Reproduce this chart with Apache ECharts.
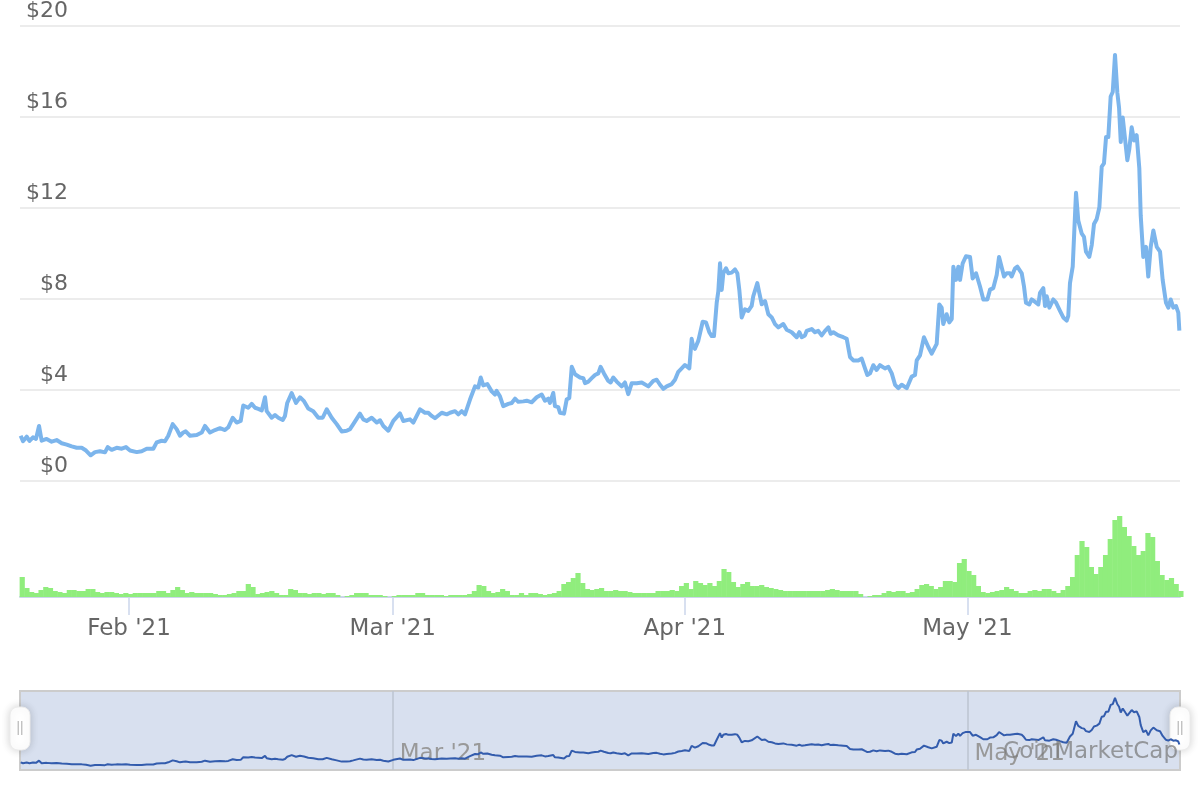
<!DOCTYPE html>
<html><head><meta charset="utf-8">
<script src="https://cdn.jsdelivr.net/npm/echarts@6/dist/echarts.min.js"></script>
<style>html,body{margin:0;padding:0;background:#fff}#c{width:1200px;height:800px}</style>
</head><body><div id="c"></div>
<script>
// ---- data ----
const priceBaseDate = '2021-02-01T00:00'; // day 0 of priceDays
const priceDays = [
-11.50,-11.25,-10.86,-10.56,-10.19,-9.87,-9.55,-9.27,-8.74,-8.21,
-7.68,-7.14,-6.61,-6.08,-5.55,-5.02,-4.56,-4.07,-3.61,-3.08,
-2.55,-2.26,-1.84,-1.31,-0.77,-0.32,0.11,0.82,1.35,1.88,
2.58,2.94,3.47,3.82,4.17,4.64,5.06,5.41,5.76,6.02,
6.48,7.19,7.72,8.07,8.60,9.13,9.66,10.19,10.54,11.01,
11.43,11.86,12.13,12.66,13.03,13.38,13.73,14.09,14.44,14.62,
15.15,15.50,15.85,16.32,16.56,16.80,17.27,17.73,18.15,18.58,
19.03,19.56,20.10,20.56,20.99,21.52,22.05,22.58,23.11,23.46,
23.81,24.52,24.87,25.23,25.76,26.30,26.65,27.00,27.53,28.06,
28.77,29.12,29.83,30.18,30.89,31.42,31.77,32.13,32.48,33.20,
33.73,34.08,34.61,34.96,35.32,35.67,36.20,36.73,37.08,37.34,
37.61,38.04,38.50,38.85,39.03,39.38,39.73,40.27,40.63,40.98,
41.33,41.86,42.22,42.75,43.28,43.81,44.16,44.51,44.69,45.04,
45.22,45.57,45.75,46.18,46.46,46.74,47.00,47.35,47.88,48.23,
48.41,48.76,49.12,49.47,49.82,50.07,50.42,50.88,51.13,51.41,
51.77,52.30,52.65,53.00,53.37,53.90,54.43,55.13,55.66,56.02,
56.37,56.72,57.08,57.61,57.96,58.31,58.67,59.02,59.20,59.48,
59.73,59.90,60.08,60.44,60.90,61.25,61.60,61.86,62.10,62.39,
62.56,62.74,62.92,63.09,63.38,63.62,63.98,64.33,64.58,64.79,
65.04,65.39,65.74,66.10,66.27,66.70,66.91,67.17,67.52,67.87,
68.23,68.58,68.93,69.46,69.82,70.35,70.88,71.16,71.41,71.76,
71.94,72.47,72.82,73.17,73.53,73.89,74.24,74.49,74.77,75.30,
75.83,76.19,76.54,76.89,77.42,77.78,78.13,78.38,78.66,79.01,
79.37,79.72,80.25,80.61,80.97,81.32,81.67,82.03,82.56,83.09,
83.44,83.62,83.97,84.39,84.85,85.21,85.74,86.02,86.27,86.44,
86.80,87.08,87.34,87.51,87.79,88.04,88.22,88.50,88.85,89.28,
89.56,89.92,90.34,90.69,91.12,91.40,91.75,92.11,92.36,92.54,
92.89,93.17,93.52,93.70,94.06,94.30,94.77,95.01,95.22,95.57,
95.83,96.29,96.53,96.71,97.06,97.24,97.42,97.70,98.12,98.41,
98.83,99.18,99.54,99.71,99.89,100.18,100.53,100.77,101.14,101.38,
101.59,101.94,102.20,102.44,102.73,103.01,103.26,103.50,103.72,103.96,
104.21,104.43,104.67,104.92,105.10,105.28,105.49,105.77,105.98,106.19,
106.44,106.69,106.97,107.25,107.40,107.67,107.96,108.20,108.46,108.74,
109.10,109.45,109.73,110.08,110.33,110.58,110.86,111.15,111.39,111.50
];
const prices = [
1.99,1.75,1.95,1.76,1.92,1.85,2.42,1.77,1.85,1.73,
1.80,1.66,1.60,1.52,1.46,1.46,1.34,1.13,1.27,1.31,
1.26,1.49,1.37,1.46,1.42,1.49,1.34,1.27,1.31,1.42,
1.42,1.70,1.77,1.75,1.99,2.50,2.28,1.99,2.13,2.18,
1.99,2.02,2.13,2.42,2.13,2.24,2.32,2.24,2.36,2.78,
2.57,2.64,3.32,3.22,3.39,3.22,3.17,3.10,3.68,3.07,
2.78,2.90,2.78,2.68,2.86,3.43,3.87,3.43,3.68,3.51,
3.19,3.07,2.78,2.78,3.15,2.78,2.50,2.18,2.21,2.28,
2.50,2.96,2.71,2.64,2.78,2.57,2.67,2.42,2.21,2.64,
2.97,2.64,2.71,2.57,3.15,3.00,3.00,2.86,2.76,3.00,
2.93,3.00,3.07,2.93,3.07,2.93,3.58,4.16,4.11,4.55,
4.20,4.26,3.94,3.80,3.96,3.72,3.29,3.39,3.43,3.62,
3.48,3.50,3.53,3.46,3.68,3.80,3.53,3.62,3.43,3.87,
3.29,3.25,3.00,2.96,3.58,3.65,5.02,4.69,4.55,4.52,
4.30,4.37,4.52,4.66,4.73,5.02,4.73,4.40,4.33,4.55,
4.37,4.16,4.33,3.82,4.30,4.30,4.33,4.16,4.40,4.45,
4.23,4.05,4.16,4.26,4.45,4.80,4.95,5.10,5.12,4.95,
6.25,5.90,5.81,6.17,7.00,6.97,6.54,6.37,6.37,7.84,
8.34,9.57,8.40,9.13,9.35,9.13,9.16,9.30,9.13,8.40,
7.19,7.55,7.48,7.70,8.12,8.70,8.27,7.77,7.91,7.33,
7.19,6.90,6.75,6.90,6.65,6.54,6.32,6.54,6.32,6.40,
6.60,6.68,6.54,6.60,6.40,6.60,6.75,6.47,6.54,6.40,
6.32,6.25,5.45,5.30,5.30,5.38,4.95,4.66,4.73,5.09,
4.88,5.09,4.95,5.02,4.73,4.23,4.08,4.23,4.08,4.59,
4.66,5.30,5.52,6.32,5.89,5.60,6.03,7.76,7.62,6.90,
7.33,6.97,7.12,9.42,8.84,9.42,8.84,9.57,9.88,9.85,
8.90,9.13,8.55,7.98,7.98,8.41,8.48,9.06,9.85,9.93,
8.99,9.13,9.13,8.99,9.35,9.42,9.13,8.55,7.84,7.76,
7.98,7.84,7.76,8.27,8.48,7.69,8.12,7.62,7.98,7.84,
7.48,7.19,7.05,7.26,8.70,9.42,12.67,11.45,10.87,10.73,
10.08,9.85,10.37,11.30,11.52,12.03,13.82,13.96,15.12,15.12,
16.90,17.10,18.73,17.06,16.41,14.90,15.98,14.90,14.10,14.60,
15.55,14.97,15.20,13.75,11.66,9.85,10.29,8.99,10.29,11.01,
10.29,10.08,8.84,7.84,7.62,7.98,7.62,7.69,7.40,6.61
];
const volumeStart = '2021-01-20T16:00'; // first volume bar
const volumeStepHours = 12;
const volumes = [
20,9,5,4,7,10,9,6,5,4,
7,7,6,6,8,8,5,4,5,5,
4,3,4,3,4,4,4,4,4,6,
6,4,7,10,7,4,5,4,4,4,
4,3,2,2,3,4,6,6,13,10,
3,4,5,6,4,2,2,8,7,4,
4,3,4,4,3,4,4,2,0,1,
2,4,4,4,2,2,2,1,0,1,
2,2,2,2,4,4,2,2,2,2,
1,2,2,2,2,3,6,12,11,6,
4,5,8,6,2,2,4,2,4,4,
3,2,3,4,6,13,15,19,24,14,
8,7,8,9,6,6,7,6,6,5,
4,4,4,4,4,6,6,6,7,6,
11,14,8,16,14,12,14,11,16,28,
25,15,10,13,15,11,11,12,10,9,
8,7,6,6,6,6,6,6,6,6,
6,7,8,7,6,6,6,6,3,0,
1,2,2,4,6,5,6,6,4,5,
8,12,13,11,8,10,16,16,15,34,
38,26,22,11,5,4,5,6,7,10,
8,6,4,4,6,7,6,8,8,6,
4,7,11,20,42,56,50,30,23,30,
42,58,77,81,70,61,51,42,46,64,
60,36,22,17,19,13,6
];
const axisStart = '2021-01-20T10:20';
const axisEnd = '2021-05-23T13:40';
const tickDates = ['2021-02-01T00:00','2021-03-01T00:00','2021-04-01T00:00','2021-05-01T00:00'];
const tickLabels = ["Feb '21","Mar '21","Apr '21","May '21"];
const navTickDates = ['2021-03-01T00:00','2021-05-01T00:00'];
const navTickLabels = ["Mar '21","May '21"];
const yTicks = [0,4,8,12,16,20];
const watermark = 'CoinMarketCap';

// ---- build ----
const FONT = 'DejaVu Sans';
const HOUR = 3600000, DAY = 24 * HOUR;
const ts = s => new Date(s).getTime();
const base = ts(priceBaseDate);
const priceData = priceDays.map((d, i) => [base + d * DAY, prices[i]]);
const v0 = ts(volumeStart);
const volumeData = volumes.map((v, i) => [v0 + i * volumeStepHours * HOUR, v]);
const minT = ts(axisStart), maxT = ts(axisEnd);
const tickVals = tickDates.map(ts);
const navTickVals = navTickDates.map(ts);
const labelFor = (vals, labels) => v => {
  const i = vals.findIndex(x => Math.abs(x - v) < HOUR);
  return i < 0 ? '' : labels[i];
};

function handle(cx) {
  return {
    type: 'group', z: 50,
    children: [
      { type: 'rect', shape: { x: cx - 10, y: 707, width: 20, height: 43, r: 8 },
        style: { fill: '#ffffff', stroke: '#ececec', lineWidth: 1, shadowBlur: 8, shadowColor: 'rgba(0,0,0,0.18)' } },
      { type: 'line', shape: { x1: cx - 1.8, y1: 721, x2: cx - 1.8, y2: 735 }, style: { stroke: '#a8a8a8', lineWidth: 1 } },
      { type: 'line', shape: { x1: cx + 1.8, y1: 721, x2: cx + 1.8, y2: 735 }, style: { stroke: '#a8a8a8', lineWidth: 1 } }
    ]
  };
}

const chart = echarts.init(document.getElementById('c'), null, { renderer: 'canvas' });
chart.setOption({
  animation: false,
  backgroundColor: '#ffffff',
  grid: [
    { left: 20, right: 20, top: 19, height: 462 },
    { left: 20, right: 20, top: 481, height: 116 },
    { left: 20, right: 20, top: 691, height: 79, show: true, backgroundColor: '#d8e0ef', borderColor: '#cccccc', borderWidth: 2 }
  ],
  xAxis: [
    { type: 'value', gridIndex: 0, min: minT, max: maxT, show: false, splitLine: { show: false } },
    { type: 'value', gridIndex: 1, min: minT, max: maxT,
      axisLine: { show: true, onZero: false, lineStyle: { color: '#ccd6eb', width: 2 } },
      axisTick: { show: true, customValues: tickVals, length: 18, lineStyle: { color: '#ccd6eb', width: 1.5 } },
      axisLabel: { customValues: tickVals, formatter: labelFor(tickVals, tickLabels), color: '#666666', fontFamily: FONT, fontSize: 23, margin: 21 },
      splitLine: { show: false } },
    { type: 'value', gridIndex: 2, min: minT, max: maxT,
      axisLine: { show: false, onZero: false },
      axisTick: { show: true, inside: true, customValues: navTickVals, length: 79, lineStyle: { color: '#bcc3d1', width: 1.5 } },
      axisLabel: { inside: true, customValues: navTickVals, formatter: labelFor(navTickVals, navTickLabels), color: '#999999', fontFamily: FONT, fontSize: 23, margin: 4, align: 'left', padding: [0, 0, 0, 7] },
      splitLine: { show: false } }
  ],
  yAxis: [
    { type: 'value', gridIndex: 0, min: yTicks[0], max: yTicks[yTicks.length - 1], interval: 4,
      axisLine: { show: false }, axisTick: { show: false },
      splitLine: { show: true, lineStyle: { color: '#e6e6e6', width: 1.5 } },
      axisLabel: { inside: true, align: 'right', verticalAlign: 'bottom', margin: 48, padding: [0, 0, 4, 0], formatter: v => '$' + v, color: '#666666', fontFamily: FONT, fontSize: 22 } },
    { type: 'value', gridIndex: 1, min: 0, max: 116, show: false },
    { type: 'value', gridIndex: 2, min: 0, max: 20.5, show: false }
  ],
  series: [
    { name: 'Price', type: 'line', xAxisIndex: 0, yAxisIndex: 0, data: priceData, symbol: 'none',
      lineStyle: { color: '#7cb5ec', width: 4, join: 'round' }, z: 3 },
    { name: 'Volume', type: 'bar', xAxisIndex: 1, yAxisIndex: 1, data: volumeData, barWidth: 5.2,
      itemStyle: { color: '#90ed7d' } },
    { name: 'Navigator', type: 'line', xAxisIndex: 2, yAxisIndex: 2, data: priceData, symbol: 'none',
      lineStyle: { color: '#335cad', width: 2 } }
  ],
  graphic: [
    handle(20),
    handle(1180),
    { type: 'text', z: 60, style: { text: watermark, x: 1178, y: 752, align: 'right', verticalAlign: 'middle',
      font: '23px "DejaVu Sans"', fill: 'rgba(120,120,120,0.72)' } }
  ]
});
</script>
</body></html>
